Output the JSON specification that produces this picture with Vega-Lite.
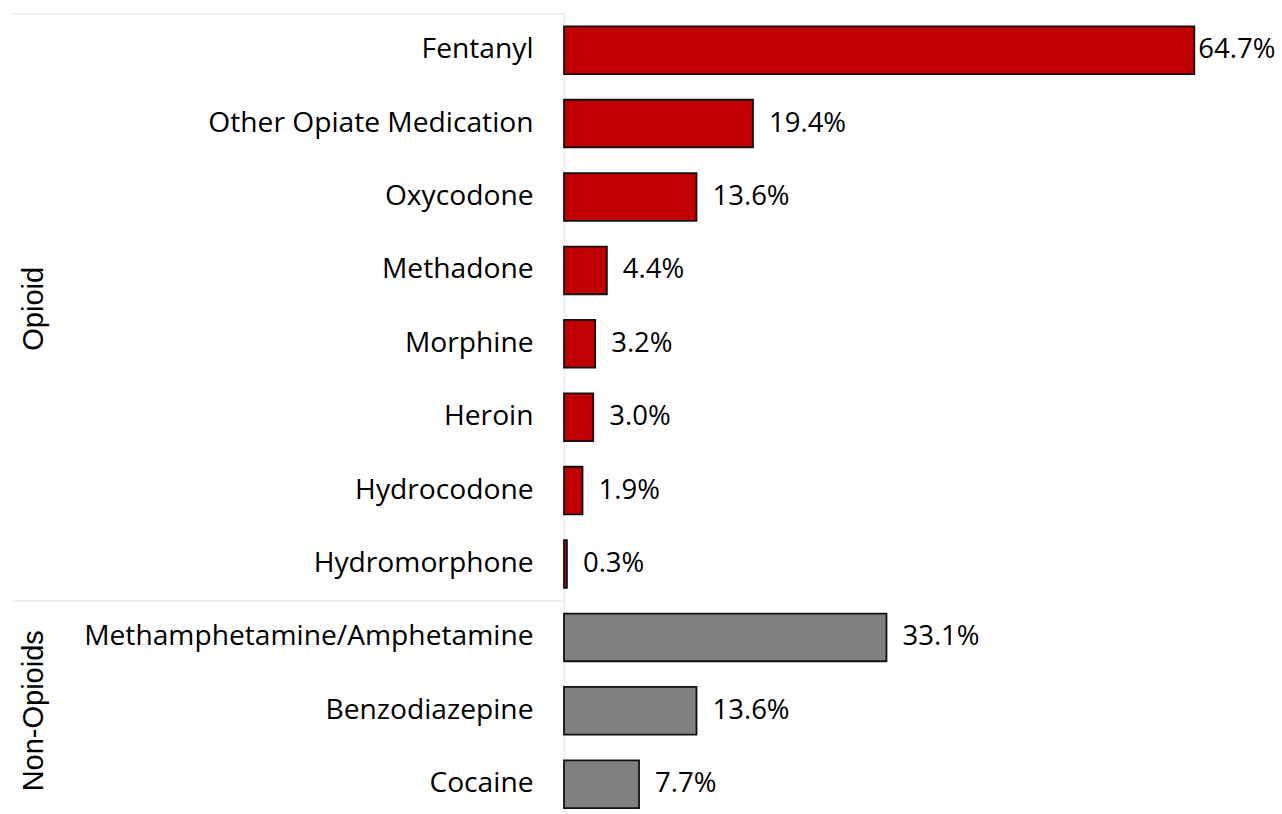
{
  "$schema": "https://vega.github.io/schema/vega-lite/v6.json",
  "autosize": "none",
  "padding": {"left": 564, "top": 13.5, "right": 0, "bottom": 0},
  "width": 718,
  "height": {"step": 73.4},
  "config": {"view": {"stroke": null}},
  "data": {
    "values": [
      {"drug": "Fentanyl", "group": "Opioid", "value": 64.7},
      {"drug": "Other Opiate Medication", "group": "Opioid", "value": 19.4},
      {"drug": "Oxycodone", "group": "Opioid", "value": 13.6},
      {"drug": "Methadone", "group": "Opioid", "value": 4.4},
      {"drug": "Morphine", "group": "Opioid", "value": 3.2},
      {"drug": "Heroin", "group": "Opioid", "value": 3.0},
      {"drug": "Hydrocodone", "group": "Opioid", "value": 1.9},
      {"drug": "Hydromorphone", "group": "Opioid", "value": 0.3},
      {"drug": "Methamphetamine/Amphetamine", "group": "Non-Opioids", "value": 33.1},
      {"drug": "Benzodiazepine", "group": "Non-Opioids", "value": 13.6},
      {"drug": "Cocaine", "group": "Non-Opioids", "value": 7.7}
    ]
  },
  "transform": [
    {"calculate": "format(datum.value, '.1f') + '%'", "as": "label"}
  ],
  "encoding": {
    "y": {"field": "drug", "type": "nominal", "sort": null,
          "scale": {"paddingInner": 0.35, "paddingOuter": 0.175}},
    "x": {"field": "value", "type": "quantitative",
          "scale": {"domain": [0, 73.7], "nice": false, "zero": true}, "axis": null}
  },
  "layer": [
    {
      "mark": {"type": "bar", "stroke": "#111111", "strokeWidth": 1.8},
      "encoding": {
        "color": {"field": "group", "type": "nominal",
                  "scale": {"domain": ["Opioid", "Non-Opioids"], "range": ["#C00000", "#808080"]},
                  "legend": null},
        "y": {"field": "drug", "type": "nominal", "sort": null,
              "axis": {"orient": "left", "title": null, "ticks": false, "domainColor": "#EBEBEB", "domainWidth": 1.5,
                       "labelPadding": 31, "labelFont": "Open Sans", "labelFontSize": 28.2, "labelColor": "#000000",
                       "labelLimit": 1000}}
      }
    },
    {
      "transform": [{"filter": "datum.drug != 'Fentanyl'"}],
      "mark": {"type": "text", "align": "left", "baseline": "middle", "dx": 16,
               "font": "Open Sans", "fontSize": 27.5, "color": "#000000"},
      "encoding": {
        "text": {"field": "label"},
        "y": {"field": "drug", "type": "nominal", "sort": null, "axis": null}
      }
    },
    {
      "transform": [{"filter": "datum.drug == 'Fentanyl'"}],
      "mark": {"type": "text", "align": "left", "baseline": "middle", "dx": 4,
               "font": "Open Sans", "fontSize": 27.5, "color": "#000000"},
      "encoding": {
        "text": {"field": "label"},
        "y": {"field": "drug", "type": "nominal", "sort": null, "axis": null}
      }
    },
    {
      "mark": {"type": "bar", "opacity": 0},
      "encoding": {
        "y": {"field": "drug", "type": "nominal", "sort": null,
              "axis": {"orient": "left", "title": null, "ticks": false, "domain": false,
                       "values": ["Morphine", "Benzodiazepine"],
                       "labelExpr": "datum.value == 'Morphine' ? 'Opioid' : 'Non-Opioids'",
                       "labelAngle": -90, "labelAlign": "center", "labelBaseline": "middle",
                       "labelPadding": 531,
                       "labelOffset": {"condition": {"test": "datum.value == 'Morphine'", "value": -35}, "value": 0},
                       "labelFont": "Liberation Sans", "labelFontSize": 29, "labelColor": "#000000",
                       "labelLimit": 1000}}
      }
    },
    {
      "mark": {"type": "bar", "opacity": 0},
      "encoding": {
        "y": {"field": "drug", "type": "nominal", "sort": null,
              "axis": {"orient": "left", "title": null, "labels": false, "domain": false,
                       "values": ["Fentanyl", "Methamphetamine/Amphetamine"],
                       "bandPosition": 0, "tickOffset": -12.85,
                       "tickSize": 553, "tickColor": "#EBEBEB", "tickWidth": 1.5}}
      }
    }
  ],
  "resolve": {"axis": {"y": "independent"}}
}
